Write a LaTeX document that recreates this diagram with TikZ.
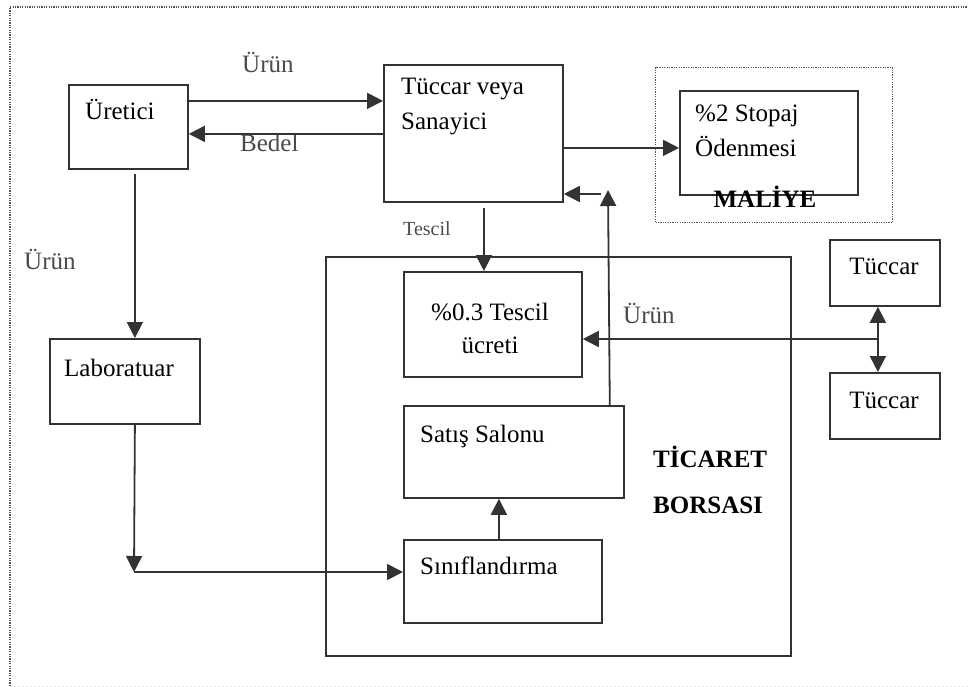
\documentclass[tikz,border=0pt]{standalone}
\usepackage{fontspec}
\setmainfont{Liberation Serif}
\usetikzlibrary{arrows.meta}
\definecolor{ln}{HTML}{333333}
\definecolor{lbl}{HTML}{4A4A4A}
\definecolor{dotc}{HTML}{555555}
\begin{document}
\begin{tikzpicture}[x=1pt,y=-1pt,
  box/.style={draw=ln, line width=1.8pt, rectangle, inner sep=0pt, anchor=north west},
  txt/.style={anchor=base west, inner sep=0pt, font=\fontsize{25}{34}\selectfont},
  ctxt/.style={txt, anchor=base},
  lab/.style={txt, text=lbl},
  btxt/.style={txt, font=\fontsize{25}{34}\selectfont\bfseries},
  arr/.style={draw=ln, line width=1.8pt, -{Triangle[length=16pt,width=16pt]}},
  dbl/.style={draw=ln, line width=1.8pt, {Triangle[length=16pt,width=16pt]}-{Triangle[length=16pt,width=16pt]}},
  dots/.style={draw=dotc, line width=1.2pt, dash pattern=on 1.2pt off 1.2pt}]
\useasboundingbox (0,0) rectangle (968,687);
\fill[white] (0,0) rectangle (968,687);
% outer frame
\draw[dots] (10,686) -- (10,7) -- (968,7);
\draw[gray!20, line width=1pt, dash pattern=on 2pt off 2pt] (10,686) -- (968,686);
% boxes
\node[box, minimum width=119pt, minimum height=84pt] (uretici) at (68,84) {};
\node[box, minimum width=179pt, minimum height=137pt] (tuccar) at (383,64) {};
\node[box, dots, minimum width=237pt, minimum height=155pt] (maliye) at (655,67) {};
\node[box, minimum width=178pt, minimum height=104pt] (stopaj) at (679,90) {};
\node[box, minimum width=465pt, minimum height=399pt] (borsa) at (325,256) {};
\node[box, minimum width=178pt, minimum height=105pt] (tescil) at (403,271) {};
\node[box, minimum width=220pt, minimum height=92pt] (satis) at (403,405) {};
\node[box, minimum width=198pt, minimum height=83pt] (sinif) at (403,539) {};
\node[box, minimum width=150pt, minimum height=85pt] (lab) at (49,338) {};
\node[box, minimum width=110pt, minimum height=66pt] (tuc1) at (829,239) {};
\node[box, minimum width=110pt, minimum height=66pt] (tuc2) at (829,372) {};
% texts
\node[txt] (t-uretici) at (85,120) {Üretici};
\node[lab] (l-urun1) at (242,73) {Ürün};
\node[lab] (l-bedel) at (240,152) {Bedel};
\node[txt] (t-tuccar1) at (401,95) {Tüccar veya};
\node[txt] (t-tuccar2) at (401,130) {Sanayici};
\node[txt] (t-stopaj1) at (695,122) {\%2 Stopaj};
\node[txt] (t-stopaj2) at (695,157) {Ödenmesi};
\node[btxt, anchor=base] (t-maliye) at (765,207) {MALİYE};
\node[lab, font=\fontsize{20}{24}\selectfont] (l-tescil) at (403,235) {Tescil};
\node[ctxt] (t-tescil1) at (490,320) {\%0.3 Tescil};
\node[ctxt] (t-tescil2) at (490,353) {ücreti};
\node[lab] (l-urun2) at (623,323) {Ürün};
\node[ctxt] (t-tuc1) at (884,274) {Tüccar};
\node[ctxt] (t-tuc2) at (884,408) {Tüccar};
\node[txt] (t-lab) at (64,376) {Laboratuar};
\node[lab] (l-urun3) at (24,269) {Ürün};
\node[txt] (t-satis) at (420,442) {Satış Salonu};
\node[btxt] (t-ticaret) at (653,467) {TİCARET};
\node[btxt] (t-borsasi) at (653,513) {BORSASI};
\node[txt] (t-sinif) at (420,574) {Sınıflandırma};
% connectors
\draw[arr] ([yshift=26pt]uretici.east) -- ([yshift=26pt]uretici.east -| tuccar.west);
\draw[arr] ([yshift=-7pt]uretici.east -| tuccar.west) -- ([yshift=-7pt]uretici.east);
\draw[arr] ([xshift=6.5pt,yshift=-4pt]uretici.south) -- ([xshift=6.5pt]uretici.south |- lab.north);
\coordinate (labturn) at (134,572);
\draw[arr] ([xshift=10pt]lab.south) -- (labturn);
\draw[arr] (labturn) -- (labturn -| sinif.west);
\draw[arr] ([yshift=-14.5pt]tuccar.east) -- ([yshift=-14.5pt]tuccar.east -| stopaj.west);
\draw[arr] ([xshift=10.5pt,yshift=-5pt]tuccar.south) -- ([xshift=10.5pt]tuccar.south |- tescil.north);
\coordinate (upend) at (608,190);
\coordinate (leftstart) at (601,194);
\draw[arr] ([xshift=-15pt]satis.north east) -- (upend);
\draw[arr] (leftstart) -- (leftstart -| tuccar.east);
\draw[arr] ([xshift=-4pt]sinif.north) -- ([xshift=-4pt]sinif.north |- satis.south);
\draw[dbl] ([xshift=-7pt]tuc1.south) -- ([xshift=-7pt]tuc1.south |- tuc2.north);
\coordinate (junc) at (877,339);
\draw[arr] (junc) -- (junc -| tescil.east);
\end{tikzpicture}
\end{document}
